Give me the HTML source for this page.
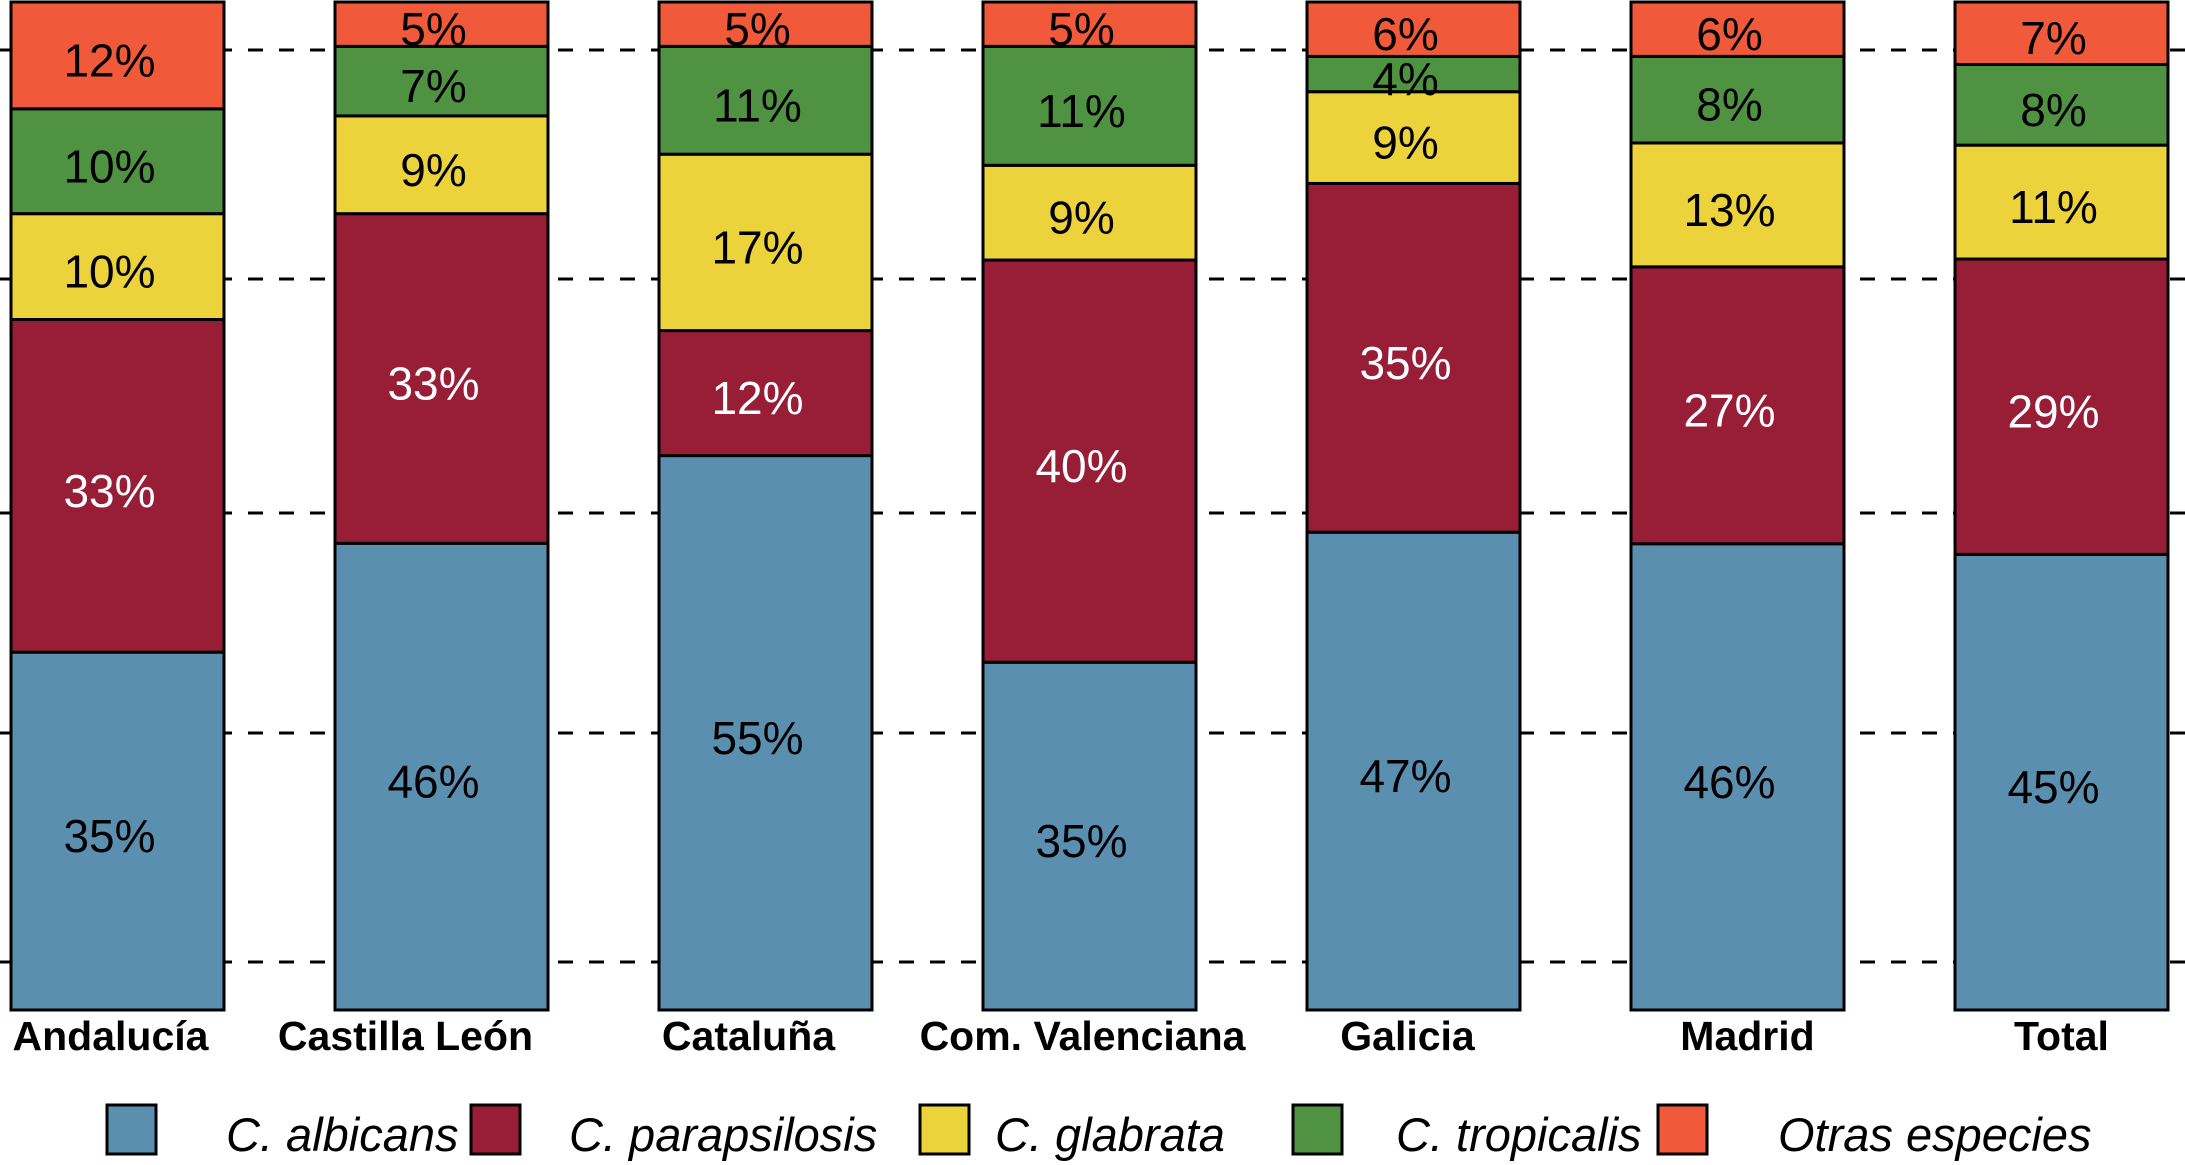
<!DOCTYPE html>
<html><head><meta charset="utf-8"><style>
html,body{margin:0;padding:0;background:#fff;}
svg{display:block;font-family:"Liberation Sans",Arial,sans-serif;}
</style></head><body>
<svg id="chart" width="2185" height="1165" viewBox="0 0 2185 1165" xmlns="http://www.w3.org/2000/svg">
<g id="grid"></g>
<g id="bars"></g>
<g id="xlabels"></g>
<g id="legend"></g>
</svg>
<script>
const categories = ["Andalucía","Castilla León","Cataluña","Com. Valenciana","Galicia","Madrid","Total"];
const albicans = [35.5,46.3,55.0,34.5,47.4,46.3,45.2];
const parapsilosis = [33.0,32.7,12.4,39.9,34.6,27.5,29.3];
const glabrata = [10.5,9.7,17.5,9.4,9.1,12.3,11.3];
const tropicalis = [10.4,6.9,10.7,11.8,3.5,8.6,8.0];
const otras = [10.6,4.4,4.4,4.4,5.4,5.4,6.2];
const albicansLabels = [35,46,55,35,47,46,45];
const parapsilosisLabels = [33,33,12,40,35,27,29];
const glabrataLabels = [10,9,17,9,9,13,11];
const tropicalisLabels = [10,7,11,11,4,8,8];
const otrasLabels = [12,5,5,5,6,6,7];
const seriesNames = ["C. albicans","C. parapsilosis","C. glabrata","C. tropicalis","Otras especies"];
const gridYs = [50,279,513,733,962];

const NS="http://www.w3.org/2000/svg";
const series=[albicans,parapsilosis,glabrata,tropicalis,otras];
const labels=[albicansLabels,parapsilosisLabels,glabrataLabels,tropicalisLabels,otrasLabels];
const colors=["#5b8fb0","#981e37","#ecd33b","#4f9242","#f05a3a"];
const textColors=["#000","#fff","#000","#000","#000"];
const keys=["albicans","parapsilosis","glabrata","tropicalis","otras"];
const labelOffsets=[-7,-36,-17,-7,-6,10,0];
const barTop=2, barBottom=1010, barW=213, x0=11, pitch=324;
function xPos(i){return x0+i*pitch;}
function mk(tag,attrs,parent){const e=document.createElementNS(NS,tag);for(const k in attrs)e.setAttribute(k,attrs[k]);parent.appendChild(e);return e;}

const grid=document.getElementById('grid');
gridYs.forEach(y=>{
  const l=mk('line',{x1:0,x2:2185,y1:y,y2:y,stroke:'#000','stroke-width':3,'stroke-dasharray':'15 16'},grid);
  
  
});

const bars=document.getElementById('bars');
categories.forEach((c,i)=>{
  const g=mk('g',{},bars);
  
  
  let total=0; series.forEach(s=>total+=s[i]);
  const H=barBottom-barTop;
  let cum=0;
  series.forEach((s,k)=>{
    const yb=barBottom-cum/total*H;
    cum+=s[i];
    const yt=barBottom-cum/total*H;
    const r=mk('rect',{x:xPos(i),y:yt,width:barW,height:yb-yt,fill:colors[k],stroke:'#000','stroke-width':3},g);
    
    
    const t=mk('text',{x:xPos(i)+barW/2-8,y:(yt+yb)/2+21,'text-anchor':'middle','font-size':46,fill:textColors[k]},g);
    t.textContent=labels[k][i]+'%';
    
    
  });
});

const xl=document.getElementById('xlabels');
categories.forEach((c,i)=>{
  const t=mk('text',{x:xPos(i)+barW/2+labelOffsets[i],y:1050,'text-anchor':'middle','font-size':41,'font-weight':'bold',fill:'#000'},xl);
  t.textContent=c;
  
  
});

const lg=document.getElementById('legend');
const sqX=[107,471,920,1293,1658], txX=[226,569,995,1396,1778];
seriesNames.forEach((n,k)=>{
  const g=mk('g',{},lg);
  
  
  const r=mk('rect',{x:sqX[k],y:1105,width:49,height:49,fill:colors[k],stroke:'#000','stroke-width':3},g);
  
  
  const t=mk('text',{x:txX[k],y:1151,'font-size':47,'font-style':'italic',fill:'#000'},g);
  t.textContent=n;
  
  
});
</script>
</body></html>
